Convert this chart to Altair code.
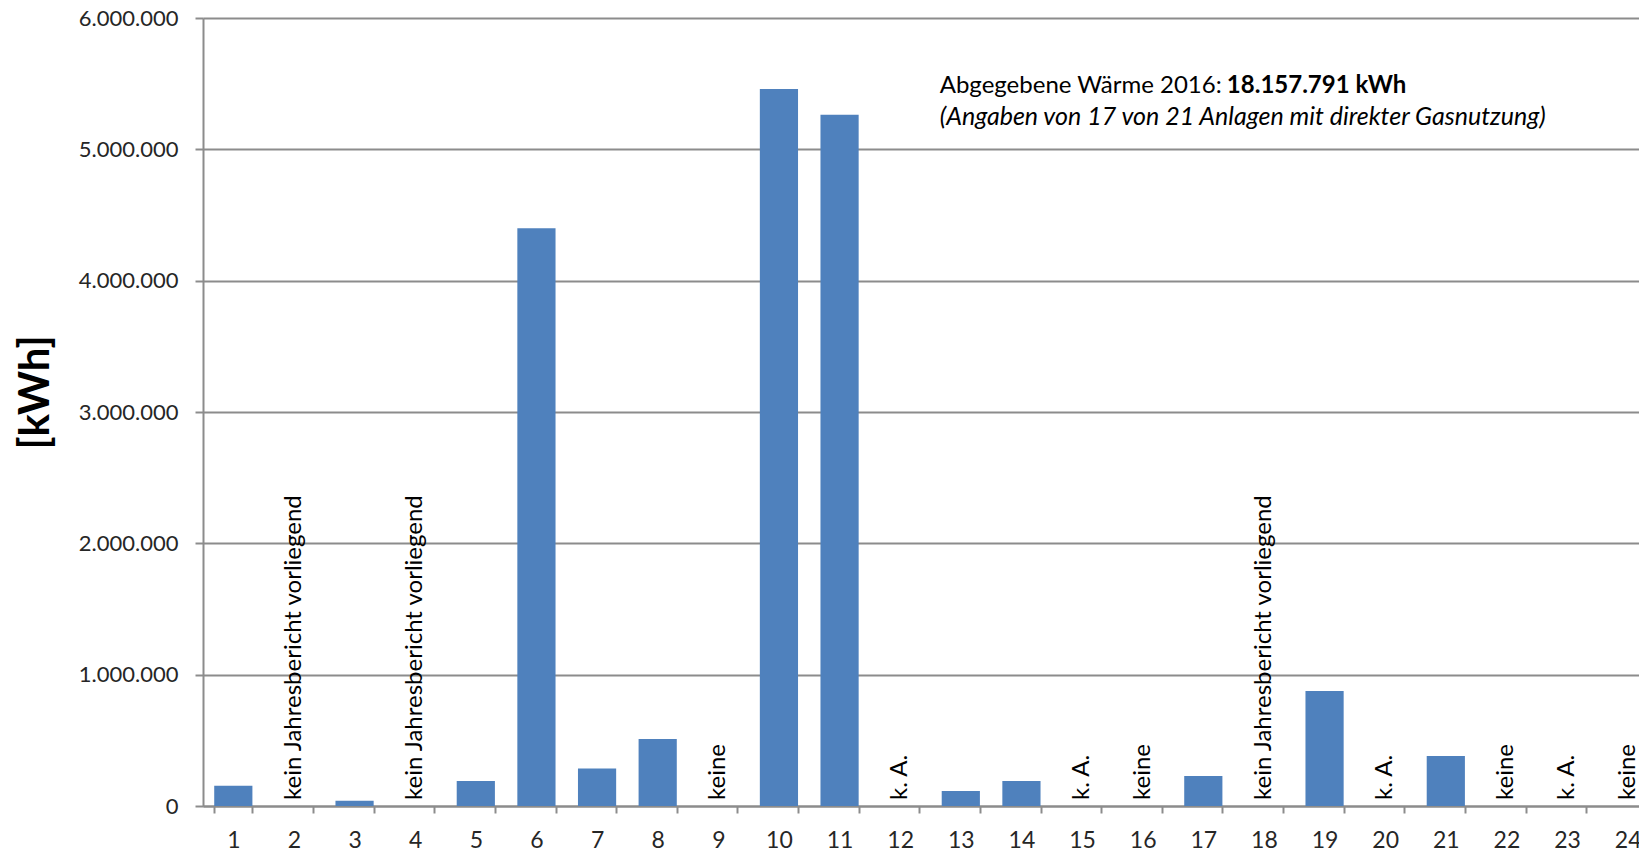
import altair as alt
import pandas as pd

categories = [str(i) for i in range(1, 25)]
values = [155000, None, 40000, None, 190000, 4400000, 285000, 510000, None,
          5460000, 5263000, None, 115000, 190000, None, None, 228000, None,
          876000, None, 381000, None, None, None]
notes = ["", "kein Jahresbericht vorliegend", "", "kein Jahresbericht vorliegend",
         "", "", "", "", "keine", "", "", "k. A.", "", "", "k. A.", "keine", "",
         "kein Jahresbericht vorliegend", "", "k. A.", "", "keine", "k. A.", "keine"]
y_ticks = [0, 1000000, 2000000, 3000000, 4000000, 5000000, 6000000]
header_regular = "Abgegebene Wärme 2016:"
header_bold = "18.157.791 kWh"
header_italic = "(Angaben von 17 von 21 Anlagen mit direkter Gasnutzung)"

df = pd.DataFrame({"cat": categories, "val": values, "note": notes})
bars_df = df.dropna(subset=["val"])
notes_df = df[df["note"] != ""]

FONT = "Lato"
GRID = "#8c8c8c"

xscale = alt.Scale(domain=categories, range=[0, 1455], paddingInner=0.37, paddingOuter=0.185)
yscale = alt.Scale(domain=[0, 6000000], nice=False)

xaxis = alt.Axis(title=None, labelAngle=0, tickBand="extent", tickSize=7, tickColor=GRID,
                 tickWidth=2, domainColor=GRID, domainWidth=2, labelFont=FONT, labelFontSize=23,
                 labelColor="#262626", labelPadding=16, grid=False)
yaxis = alt.Axis(title="[kWh]", values=y_ticks, format=",d", tickSize=8, tickColor=GRID, tickWidth=2,
                 domainColor=GRID, domainWidth=2, gridColor=GRID, gridWidth=2, labelFont=FONT,
                 labelFontSize=22, labelColor="#262626", labelPadding=17, titleFont=FONT,
                 titleFontSize=42, titleFontWeight="bold", titleColor="#000000",
                 titleX=-168, titleY=374, titleBaseline="middle", titleAngle=270)

base_x = alt.X("cat:N", scale=xscale, axis=xaxis, sort=categories)

bars = alt.Chart(bars_df).mark_bar(color="#4f81bd").encode(
    x=base_x,
    y=alt.Y("val:Q", scale=yscale, axis=yaxis),
)

note_text = alt.Chart(notes_df).mark_text(
    angle=270, align="left", baseline="middle", font=FONT, fontSize=24, color="#000000", dx=6
).encode(
    x=alt.X("cat:N", sort=categories),
    y=alt.datum(0),
    text="note:N",
)

h1 = alt.Chart(pd.DataFrame({"cat": ["13"], "t": [header_regular]})).mark_text(
    align="left", baseline="alphabetic", font=FONT, fontSize=24, color="#000000", dx=-2
).encode(x=alt.X("cat:N", sort=categories, bandPosition=0), y=alt.datum(5429000), text="t:N")

h2 = alt.Chart(pd.DataFrame({"cat": ["18"], "t": [header_bold]})).mark_text(
    align="left", baseline="alphabetic", font=FONT, fontSize=24, fontWeight="bold",
    color="#000000", dx=-18
).encode(x=alt.X("cat:N", sort=categories, bandPosition=0), y=alt.datum(5429000), text="t:N")

h3 = alt.Chart(pd.DataFrame({"cat": ["13"], "t": [header_italic]})).mark_text(
    align="left", baseline="alphabetic", font=FONT, fontSize=25, fontStyle="italic",
    color="#000000", dx=-2
).encode(x=alt.X("cat:N", sort=categories, bandPosition=0), y=alt.datum(5185000), text="t:N")

chart = alt.layer(bars, note_text, h1, h2, h3).properties(
    width=1436, height=788,
    padding={"left": 195, "top": 10, "right": 0, "bottom": 46},
    autosize=alt.AutoSizeParams(type="none"),
    background="#ffffff",
).configure_view(fill="#d9d9d9", stroke=None).configure(
    locale={"number": {"decimal": ",", "thousands": ".", "grouping": [3], "currency": ["", " €"]}}
)

chart.save("out.html", embed_options={"renderer": "svg", "actions": False})
